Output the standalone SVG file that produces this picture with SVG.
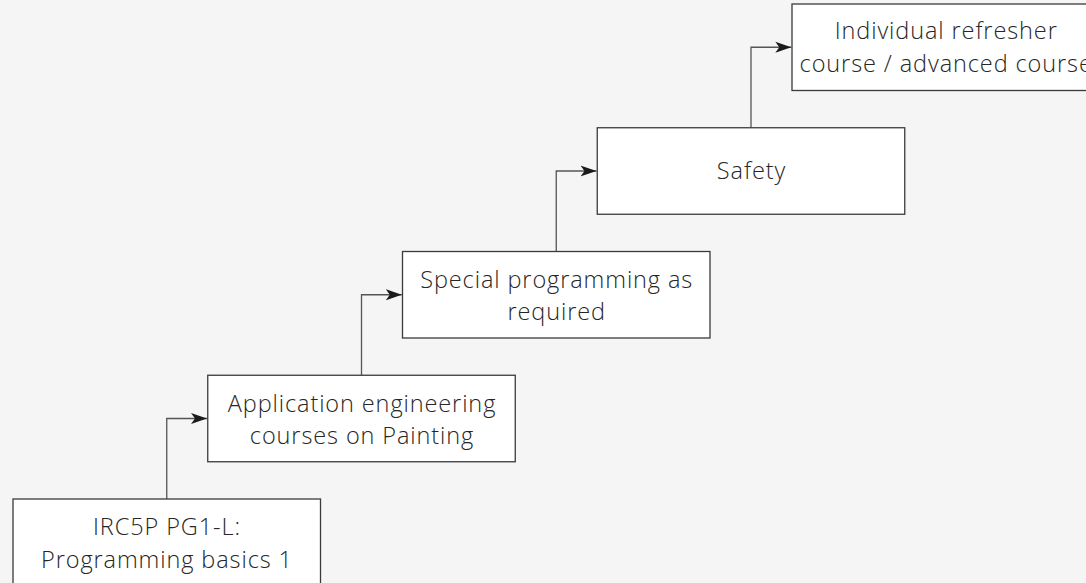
<svg xmlns="http://www.w3.org/2000/svg" width="1086" height="583" viewBox="0 0 1086 583">
<style>
.bg{fill:#f5f5f5}
.box{fill:#ffffff;stroke:#3a3a3a;stroke-width:1.3}
.lbl{font-family:"Open Sans","Liberation Sans",sans-serif;font-weight:300;font-size:23.5px;letter-spacing:0.9px;fill:#262626;text-anchor:middle}
.conn{fill:none;stroke:#555555;stroke-width:1.3}
</style>
<defs>
<marker id="arr" markerUnits="userSpaceOnUse" markerWidth="18" markerHeight="13" refX="16" refY="6.5" orient="auto">
<path d="M0,1 L16,6.5 L0,12 L4,6.5 Z" fill="#1a1a1a"/>
</marker>
</defs>
<rect class="bg" x="0" y="0" width="1086" height="583"/>
<g id="connectors">
<path class="conn" d="M166.75,499 V418.5 H207" marker-end="url(#arr)"/>
<path class="conn" d="M361.5,375.25 V294.75 H401.8" marker-end="url(#arr)"/>
<path class="conn" d="M556.25,251.5 V171 H596.5" marker-end="url(#arr)"/>
<path class="conn" d="M751,127.75 V47.25 H791.3" marker-end="url(#arr)"/>
</g>
<g id="node-pg1">
<rect class="box" x="13" y="499" width="307.5" height="100"/>
<text class="lbl" x="167" y="535">IRC5P PG1-L:</text>
<text class="lbl" x="167" y="567.7">Programming basics 1</text>
</g>
<g id="node-app">
<rect class="box" x="207.75" y="375.25" width="307.5" height="86.5"/>
<text class="lbl" x="362" y="411.5">Application engineering</text>
<text class="lbl" x="362" y="444.2">courses on Painting</text>
</g>
<g id="node-special">
<rect class="box" x="402.5" y="251.5" width="307.5" height="86.5"/>
<text class="lbl" x="556.7" y="287.7">Special programming as</text>
<text class="lbl" x="556.7" y="320.4">required</text>
</g>
<g id="node-safety">
<rect class="box" x="597.25" y="127.75" width="307.5" height="86.5"/>
<text class="lbl" x="751.5" y="179.3">Safety</text>
</g>
<g id="node-refresher">
<rect class="box" x="792" y="4" width="320" height="86.5"/>
<text class="lbl" x="946.2" y="39.3">Individual refresher</text>
<text class="lbl" x="946.2" y="72">course / advanced course</text>
</g>
</svg>
